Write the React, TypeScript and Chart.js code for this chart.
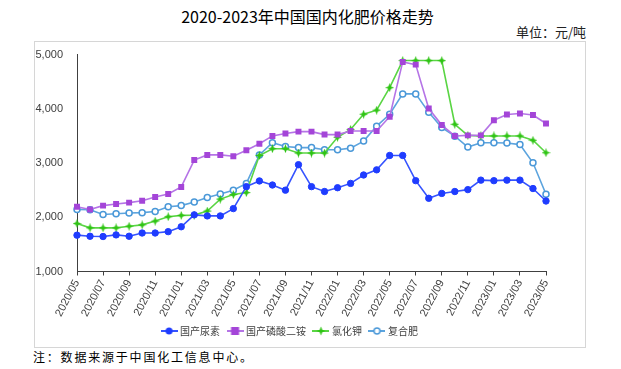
import React, { useEffect, useRef } from "react";
import { Chart, registerables } from "chart.js";
Chart.register(...registerables);

const months: string[] = [
  "2020/05", "2020/06", "2020/07", "2020/08", "2020/09", "2020/10", "2020/11", "2020/12",
  "2021/01", "2021/02", "2021/03", "2021/04", "2021/05", "2021/06", "2021/07", "2021/08",
  "2021/09", "2021/10", "2021/11", "2021/12", "2022/01", "2022/02", "2022/03", "2022/04",
  "2022/05", "2022/06", "2022/07", "2022/08", "2022/09", "2022/10", "2022/11", "2022/12",
  "2023/01", "2023/02", "2023/03", "2023/04", "2023/05",
];

const seriesNames: string[] = ["国产尿素", "国产磷酸二铵", "氯化钾", "复合肥"];

const urea: number[] = [
  1670, 1650, 1645, 1675, 1650, 1710, 1710, 1735, 1825, 2045, 2025, 2025, 2160,
  2565, 2670, 2595, 2500, 2970, 2565, 2475, 2545, 2625, 2780, 2875, 3140, 3140,
  2675, 2350, 2440, 2475, 2510, 2685, 2675, 2685, 2685, 2530, 2300,
];

const dap: number[] = [
  2195, 2145, 2215, 2245, 2270, 2305, 2375, 2430, 2560, 3055, 3150, 3150, 3125,
  3235, 3355, 3500, 3545, 3580, 3580, 3525, 3525, 3590, 3590, 3590, 3855, 4865,
  4815, 4005, 3700, 3500, 3510, 3510, 3790, 3895, 3915, 3885, 3730,
];

const kcl: number[] = [
  1885, 1805, 1805, 1805, 1835, 1860, 1930, 2010, 2035, 2040, 2115, 2335, 2420,
  2455, 3140, 3265, 3265, 3185, 3185, 3185, 3475, 3620, 3900, 3975, 4390, 4890,
  4890, 4890, 4890, 3715, 3510, 3500, 3500, 3500, 3500, 3420, 3190,
];

const compound: number[] = [
  2145, 2140, 2050, 2065, 2080, 2085, 2105, 2195, 2215, 2280, 2365, 2430, 2500,
  2625, 3150, 3375, 3305, 3285, 3285, 3245, 3245, 3275, 3405, 3680, 3900, 4275,
  4275, 3935, 3655, 3495, 3295, 3375, 3375, 3370, 3340, 3005, 2425,
];

const yTicks: number[] = [1000, 2000, 3000, 4000, 5000];

const COLORS = {
  urea: { line: "#3553ff", point: "#1f3cff" },
  dap: { line: "#b574e6", point: "#a445d8" },
  kcl: { line: "#5ad544", point: "#2fc414" },
  compound: { line: "#5ca4de", point: "#4a98d8" },
};

function drawStar(ctx: CanvasRenderingContext2D, cx: number, cy: number, r: number, color: string) {
  const inner = r * 0.4;
  ctx.fillStyle = color;
  ctx.beginPath();
  for (let k = 0; k < 8; k++) {
    const ang = (Math.PI / 4) * k - Math.PI / 2;
    const rr = k % 2 === 0 ? r : inner;
    const px = cx + Math.cos(ang) * rr;
    const py = cy + Math.sin(ang) * rr;
    if (k === 0) ctx.moveTo(px, py);
    else ctx.lineTo(px, py);
  }
  ctx.closePath();
  ctx.fill();
}

function makeStarPoint(color: string): HTMLCanvasElement {
  const c = document.createElement("canvas");
  c.width = 9;
  c.height = 9;
  const ctx = c.getContext("2d")!;
  drawStar(ctx, 4.5, 4.5, 4.5, color);
  return c;
}

function makeIcon(kind: string, line: string, point: string): HTMLCanvasElement {
  const c = document.createElement("canvas");
  c.width = 17;
  c.height = 10;
  const ctx = c.getContext("2d")!;
  ctx.strokeStyle = line;
  ctx.lineWidth = 2;
  ctx.beginPath();
  ctx.moveTo(0, 5);
  ctx.lineTo(17, 5);
  ctx.stroke();
  if (kind === "circle") {
    ctx.fillStyle = point;
    ctx.beginPath();
    ctx.arc(8.5, 5, 3.5, 0, Math.PI * 2);
    ctx.fill();
  } else if (kind === "rect") {
    ctx.fillStyle = point;
    ctx.fillRect(4.5, 1, 8, 8);
  } else if (kind === "star") {
    drawStar(ctx, 8.5, 5, 4.5, point);
  } else {
    ctx.fillStyle = "#ffffff";
    ctx.strokeStyle = point;
    ctx.lineWidth = 1.5;
    ctx.beginPath();
    ctx.arc(8.5, 5, 3, 0, Math.PI * 2);
    ctx.fill();
    ctx.stroke();
  }
  return c;
}

export default function App() {
  const canvasRef = useRef<HTMLCanvasElement | null>(null);

  useEffect(() => {
    const canvas = canvasRef.current;
    if (!canvas) return;
    const starPoint = makeStarPoint(COLORS.kcl.point);
    const icons = [
      makeIcon("circle", COLORS.urea.line, COLORS.urea.point),
      makeIcon("rect", COLORS.dap.line, COLORS.dap.point),
      makeIcon("star", COLORS.kcl.line, COLORS.kcl.point),
      makeIcon("hollow", COLORS.compound.line, COLORS.compound.point),
    ];
    const tickFont = { family: "'Liberation Sans', Arial, sans-serif", size: 11 };
    const chart = new Chart(canvas, {
      type: "line",
      data: {
        labels: months,
        datasets: [
          {
            label: seriesNames[0],
            data: urea,
            borderColor: COLORS.urea.line,
            backgroundColor: COLORS.urea.point,
            pointBackgroundColor: COLORS.urea.point,
            pointBorderColor: COLORS.urea.point,
            pointStyle: "circle",
            pointRadius: 3.2,
            pointBorderWidth: 1,
            borderWidth: 1.6,
          },
          {
            label: seriesNames[1],
            data: dap,
            borderColor: COLORS.dap.line,
            backgroundColor: COLORS.dap.point,
            pointBackgroundColor: COLORS.dap.point,
            pointBorderColor: COLORS.dap.point,
            pointStyle: "rect",
            pointRadius: 4.2,
            pointBorderWidth: 0,
            borderWidth: 1.6,
          },
          {
            label: seriesNames[2],
            data: kcl,
            borderColor: COLORS.kcl.line,
            backgroundColor: COLORS.kcl.point,
            pointStyle: starPoint as any,
            pointRadius: 4,
            borderWidth: 1.6,
          },
          {
            label: seriesNames[3],
            data: compound,
            borderColor: COLORS.compound.line,
            backgroundColor: "#ffffff",
            pointBackgroundColor: "#ffffff",
            pointBorderColor: COLORS.compound.point,
            pointStyle: "circle",
            pointRadius: 3,
            pointBorderWidth: 1.5,
            borderWidth: 1.6,
          },
        ],
      },
      options: {
        responsive: false,
        animation: false,
        devicePixelRatio: 1,
        layout: { padding: { top: 12, right: 39, left: 0, bottom: 1 } },
        elements: { line: { tension: 0 } },
        plugins: {
          tooltip: { enabled: false },
          title: { display: false },
          legend: {
            display: true,
            position: "bottom",
            labels: {
              usePointStyle: true,
              pointStyleWidth: 12,
              boxHeight: 10,
              padding: 9,
              color: "#404040",
              font: { family: "'Noto Sans CJK SC', sans-serif", size: 10 },
              generateLabels: (ch: any) =>
                ch.data.datasets.map((ds: any, i: number) => ({
                  text: ds.label,
                  pointStyle: icons[i],
                  fillStyle: "transparent",
                  strokeStyle: "transparent",
                  lineWidth: 0,
                  hidden: false,
                  datasetIndex: i,
                  fontColor: "#404040",
                })),
            },
          },
        },
        scales: {
          x: {
            type: "category",
            offset: false,
            grid: {
              display: true,
              drawOnChartArea: false,
              drawTicks: true,
              tickLength: 4,
              color: (ctx: any) => (ctx.index % 2 === 0 ? "#404040" : "rgba(0,0,0,0)"),
            },
            border: { display: true, color: "#404040", width: 1 },
            ticks: {
              autoSkip: false,
              minRotation: 62,
              maxRotation: 62,
              padding: 2,
              color: "#404040",
              font: tickFont,
              callback: (_v: any, i: number) => (i % 2 === 0 ? months[i] : ""),
            },
            afterFit: (s: any) => {
              s.height = 45.5;
            },
          },
          y: {
            type: "linear",
            min: yTicks[0],
            max: yTicks[yTicks.length - 1],
            grid: { display: false },
            border: { display: true, color: "#404040", width: 1 },
            ticks: {
              stepSize: 1000,
              padding: 6,
              color: "#404040",
              font: tickFont,
              callback: (v: any) => Number(v).toLocaleString("en-US"),
            },
            afterBuildTicks: (s: any) => {
              s.ticks = yTicks.map((v) => ({ value: v }));
            },
            afterFit: (s: any) => {
              s.width = 42;
            },
          },
        },
      },
    });
    return () => chart.destroy();
  }, []);

  return (
    <div
      style={{
        position: "fixed",
        left: 0,
        top: 0,
        width: 621,
        height: 369,
        background: "#ffffff",
        fontFamily: "'Noto Sans CJK SC', sans-serif",
        color: "#000",
      }}
    >
      <div
        style={{
          position: "absolute",
          left: 0,
          top: 6,
          width: 615,
          textAlign: "center",
          fontSize: 16,
          lineHeight: "20px",
          whiteSpace: "nowrap",
        }}
      >
        2020-2023年中国国内化肥价格走势
      </div>
      <div
        style={{
          position: "absolute",
          right: 35,
          top: 23,
          fontSize: 13,
          lineHeight: "18px",
          color: "#222",
          whiteSpace: "nowrap",
        }}
      >
        单位：元/吨
      </div>
      <div
        style={{
          position: "absolute",
          left: 34,
          top: 41,
          width: 552,
          height: 307,
          boxSizing: "border-box",
          border: "1px solid #d6d6d6",
        }}
      />
      <canvas
        ref={canvasRef}
        width={550}
        height={305}
        style={{ position: "absolute", left: 35, top: 42, width: 550, height: 305 }}
      />
      <div
        style={{
          position: "absolute",
          left: 33,
          top: 349,
          fontSize: 12,
          lineHeight: "16px",
          letterSpacing: 1.8,
          whiteSpace: "nowrap",
        }}
      >
        注：数据来源于中国化工信息中心。
      </div>
    </div>
  );
}
